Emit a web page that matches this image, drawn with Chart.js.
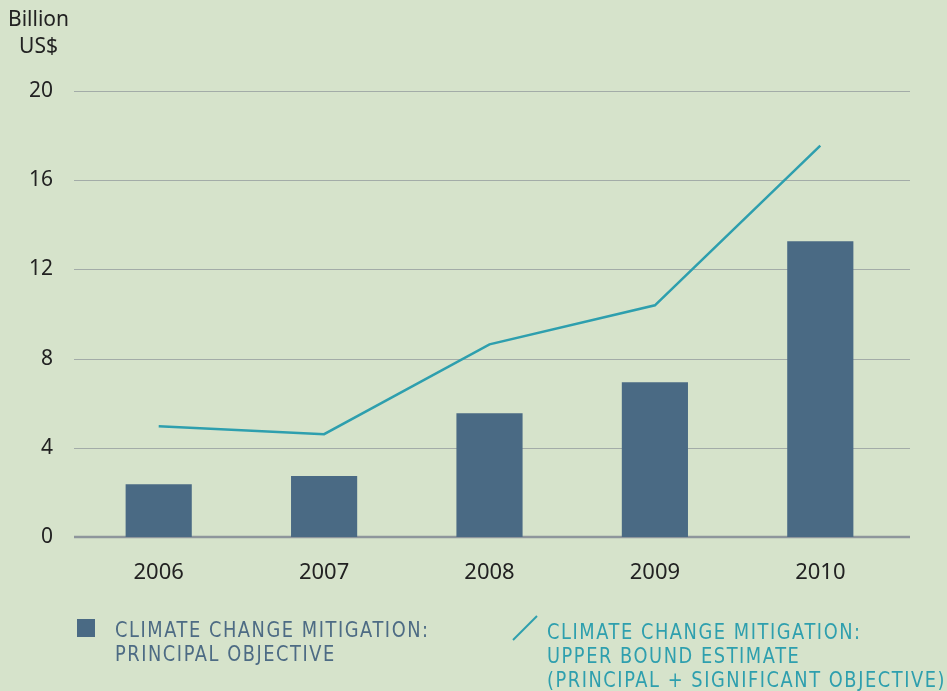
<!DOCTYPE html>
<html><head><meta charset="utf-8">
<script src="https://cdn.jsdelivr.net/npm/chart.js@4"></script>
<style>
html,body{margin:0;padding:0;background:#d6e3cb;}
#wrap{position:relative;width:947px;height:691px;overflow:hidden;}
canvas{position:absolute;left:0;top:0;}
.unit{position:absolute;left:8px;top:5px;font:21px "Noto Sans",sans-serif;color:#222;text-align:center;line-height:27px;}
.leg{position:absolute;font-family:"DejaVu Sans",sans-serif;font-size:22px;letter-spacing:1.9px;line-height:24px;transform:scaleX(0.81);transform-origin:0 0;white-space:nowrap;}
.sq{position:absolute;left:77px;top:619px;width:18px;height:18px;background:#4a6a84;}
</style></head>
<body><div id="wrap">
<canvas id="c" width="947" height="691"></canvas>
<div class="unit">Billion<br>US$</div>
<div class="sq"></div>
<div class="leg" style="left:115px;top:618px;color:#4d6b84;">CLIMATE CHANGE MITIGATION:<br>PRINCIPAL OBJECTIVE</div>
<svg style="position:absolute;left:510px;top:612px" width="32" height="32"><line x1="3" y1="28" x2="27" y2="4" stroke="#2e9fae" stroke-width="2"/></svg>
<div class="leg" style="left:547px;top:620px;color:#2e9fae;">CLIMATE CHANGE MITIGATION:<br>UPPER BOUND ESTIMATE<br>(PRINCIPAL + SIGNIFICANT OBJECTIVE)</div>
</div>
<script>
const years = ["2006","2007","2008","2009","2010"];
const principal = [2.37, 2.73, 5.55, 6.94, 13.26];
const upperBound = [4.97, 4.61, 8.64, 10.39, 17.55];
const yTicks = [0, 4, 8, 12, 16, 20];

const gridPlugin = {
  id:'extGrid',
  beforeDatasetsDraw(chart){
    const ctx = chart.ctx, y = chart.scales.y;
    ctx.save();
    yTicks.forEach(v=>{
      const py = Math.round(y.getPixelForValue(v));
      ctx.beginPath();
      if (v===0){ ctx.strokeStyle='#8e969c'; ctx.lineWidth=2.5; }
      else { ctx.strokeStyle='#a3aca8'; ctx.lineWidth=1; }
      ctx.moveTo(74, py + (v===0?0:0.5)); ctx.lineTo(910, py + (v===0?0:0.5));
      ctx.stroke();
    });
    ctx.restore();
  }
};

new Chart(document.getElementById('c'), {
  type: 'bar',
  data: {
    labels: years,
    datasets: [
      {type:'line', label:'Upper bound', data: upperBound, borderColor:'#2e9fae', borderWidth:2.5, pointRadius:0, fill:false, tension:0, order:0},
      {type:'bar', label:'Principal', data: principal, backgroundColor:'#4a6a84', categoryPercentage:0.4, barPercentage:1.0, order:1}
    ]
  },
  plugins:[gridPlugin],
  options: {
    responsive:false, animation:false,
    layout:{padding:{left:0,right:44,top:91,bottom:0}},
    plugins:{legend:{display:false},tooltip:{enabled:false}},
    scales:{
      x:{
        grid:{display:false},
        border:{display:false},
        ticks:{color:'#222',font:{family:'Noto Sans',size:22},padding:15},
        afterFit(s){s.height=154;}
      },
      y:{
        min:0,max:20,
        afterBuildTicks(s){s.ticks = yTicks.map(v=>({value:v}));},
        grid:{display:false},
        border:{display:false},
        ticks:{color:'#222',font:{family:'Noto Sans',size:21},padding:15},
        afterFit(s){s.width=76;}
      }
    }
  }
});
</script>
</body></html>
